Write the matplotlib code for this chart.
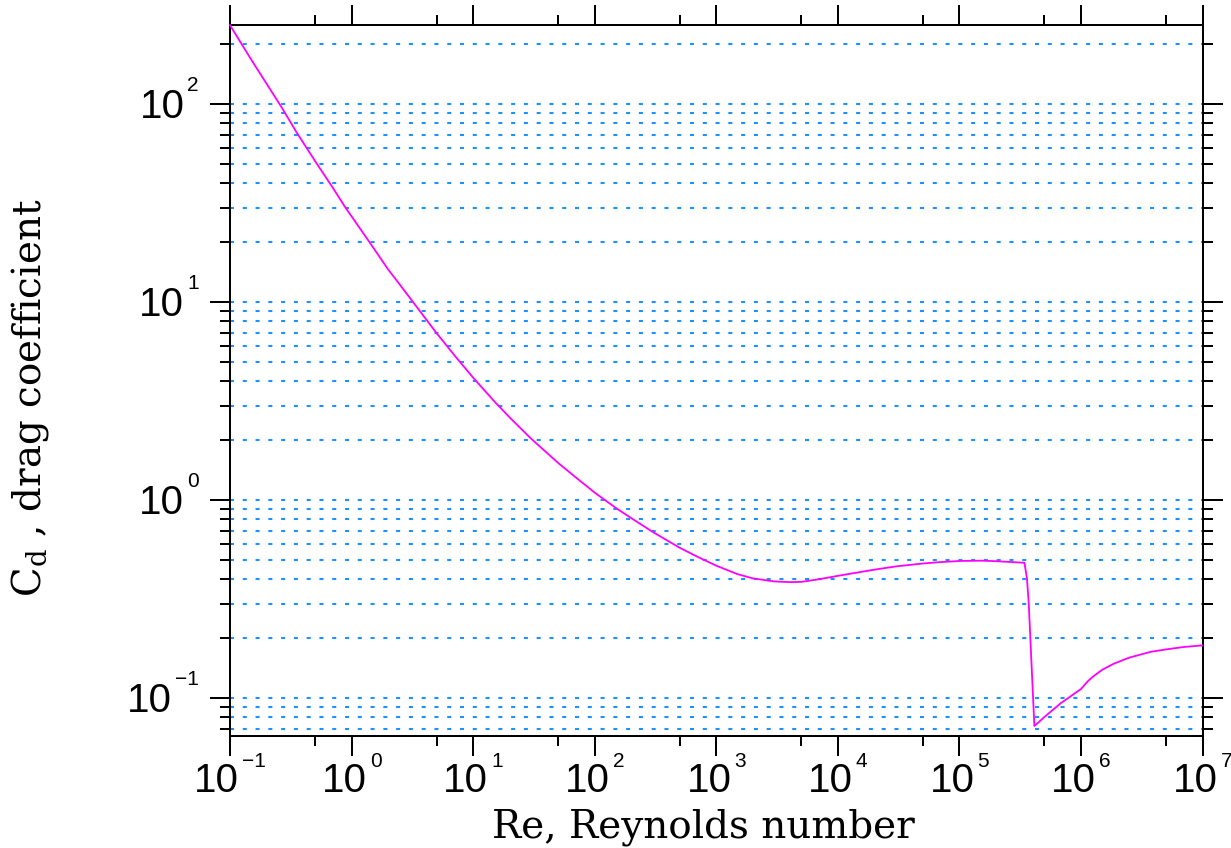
import matplotlib
matplotlib.use("Agg")
import matplotlib.pyplot as plt
from matplotlib.ticker import LogLocator, NullFormatter
import numpy as np

plt.rcParams['mathtext.fontset'] = 'dejavuserif'
plt.rcParams['lines.scale_dashes'] = False

# ---- data ----
reynolds = [0.1, 0.15, 0.2664, 0.35, 0.501, 0.7, 0.884, 1.401, 2.0, 2.506, 3.5, 5.0, 7.0,
            10, 15, 20, 30, 50, 70, 100, 150, 200, 300, 500, 700, 1000, 1500, 2000,
            3000, 4000, 5000, 7000, 1e4, 2e4, 3e4, 5e4, 7e4, 1e5, 1.5e5, 2e5, 3.43e5,
            3.6e5, 3.72e5, 4.14e5, 5.1e5, 6.8e5, 1e6, 1.13e6, 1.27e6, 1.5e6, 1.86e6,
            2.5e6, 3.73e6, 5e6, 7e6, 1e7]
drag_coef = [250, 167, 96, 72.5, 51.5, 37.8, 30.2, 20.1, 14.6, 12.2, 9.3, 6.97, 5.39,
             4.15, 3.14, 2.61, 2.04, 1.54, 1.30, 1.09, 0.91, 0.81, 0.69, 0.574, 0.517, 0.466,
             0.422, 0.402, 0.388, 0.385, 0.386, 0.398, 0.414, 0.445, 0.462, 0.478, 0.486, 0.492,
             0.494, 0.491, 0.482, 0.40, 0.301, 0.0722, 0.081, 0.094, 0.111, 0.121, 0.129, 0.139,
             0.149, 0.160, 0.171, 0.176, 0.181, 0.1845]

x_major = [1e-1, 1e0, 1e1, 1e2, 1e3, 1e4, 1e5, 1e6, 1e7]
y_major = [1e-1, 1e0, 1e1, 1e2]
x_limits = (1e-1, 1e7)
y_limits = (0.0643, 250.6)
xlabel = "Re, Reynolds number"
ylabel = r"C$_{\mathrm{d}}$ , drag coefficient"

DPI = 100
fig = plt.figure(figsize=(12.31, 8.48), dpi=DPI)
ax = fig.add_axes([230/1231, 1-736/848, (1202.5-230)/1231, (736-25)/848])

ax.set_xscale('log')
ax.set_yscale('log')
ax.set_xlim(*x_limits)
ax.set_ylim(*y_limits)

ax.plot(reynolds, drag_coef, color='#FF00FF', lw=1.3, zorder=3, clip_on=False)

ax.xaxis.set_major_locator(LogLocator(base=10, numticks=20))
ax.xaxis.set_minor_locator(LogLocator(base=10, subs=[5], numticks=20))
ax.yaxis.set_major_locator(LogLocator(base=10, numticks=20))
ax.yaxis.set_minor_locator(LogLocator(base=10, subs=np.arange(2, 10), numticks=20))
ax.xaxis.set_minor_formatter(NullFormatter())
ax.yaxis.set_minor_formatter(NullFormatter())

ax.yaxis.grid(True, which='both', color='#1E90FF', lw=1.5, dashes=(2.9, 6.3))
ax.xaxis.grid(False)
ax.set_axisbelow(True)

px = 72 / DPI
ax.tick_params(which='both', direction='out', top=True, right=True, bottom=True, left=True,
               labelbottom=False, labelleft=False, width=2 * px, color='black')
ax.tick_params(which='major', length=20 * px)
ax.tick_params(which='minor', length=10 * px)
for s in ax.spines.values():
    s.set_linewidth(2 * px)

base_font = dict(family=['Liberation Sans Narrow', 'Liberation Sans'], size=29)
sup_font = dict(family=['Liberation Sans'], size=15)

fig.canvas.draw()
renderer = fig.canvas.get_renderer()


def expo(v):
    e = int(round(np.log10(v)))
    return str(e).replace('-', '\u2212')


# x tick labels
xtr = ax.get_xaxis_transform()
for v in x_major:
    b = ax.annotate("10", xy=(v, 0), xycoords=xtr, xytext=(0, -56), textcoords='offset pixels',
                    ha='right', va='baseline', color='black', **base_font)
    s = ax.annotate(expo(v), xy=(v, 0), xycoords=xtr, xytext=(0, -31), textcoords='offset pixels',
                    ha='left', va='baseline', color='black', **sup_font)
    wb = b.get_window_extent(renderer).width
    ws = s.get_window_extent(renderer).width
    gap = 3
    right = (wb - gap - ws) / 2
    b.set_position((right, -56))
    s.set_position((right + gap, -31))

# y tick labels
ytr = ax.get_yaxis_transform()
for v in y_major:
    s = ax.annotate(expo(v), xy=(0, v), xycoords=ytr, xytext=(-31, 13), textcoords='offset pixels',
                    ha='right', va='baseline', color='black', **sup_font)
    ws = s.get_window_extent(renderer).width
    ax.annotate("10", xy=(0, v), xycoords=ytr, xytext=(-31 - ws - 3, -14), textcoords='offset pixels',
                ha='right', va='baseline', color='black', **base_font)

fig.text(703 / 1231, 1 - 837 / 848, xlabel, ha='center', va='baseline',
         family='DejaVu Serif', size=28)
fig.text(30 / 1231, 1 - 398 / 848, ylabel, ha='center', va='center', rotation=90,
         family='DejaVu Serif', size=28)

fig.savefig("out.png", dpi=DPI)
